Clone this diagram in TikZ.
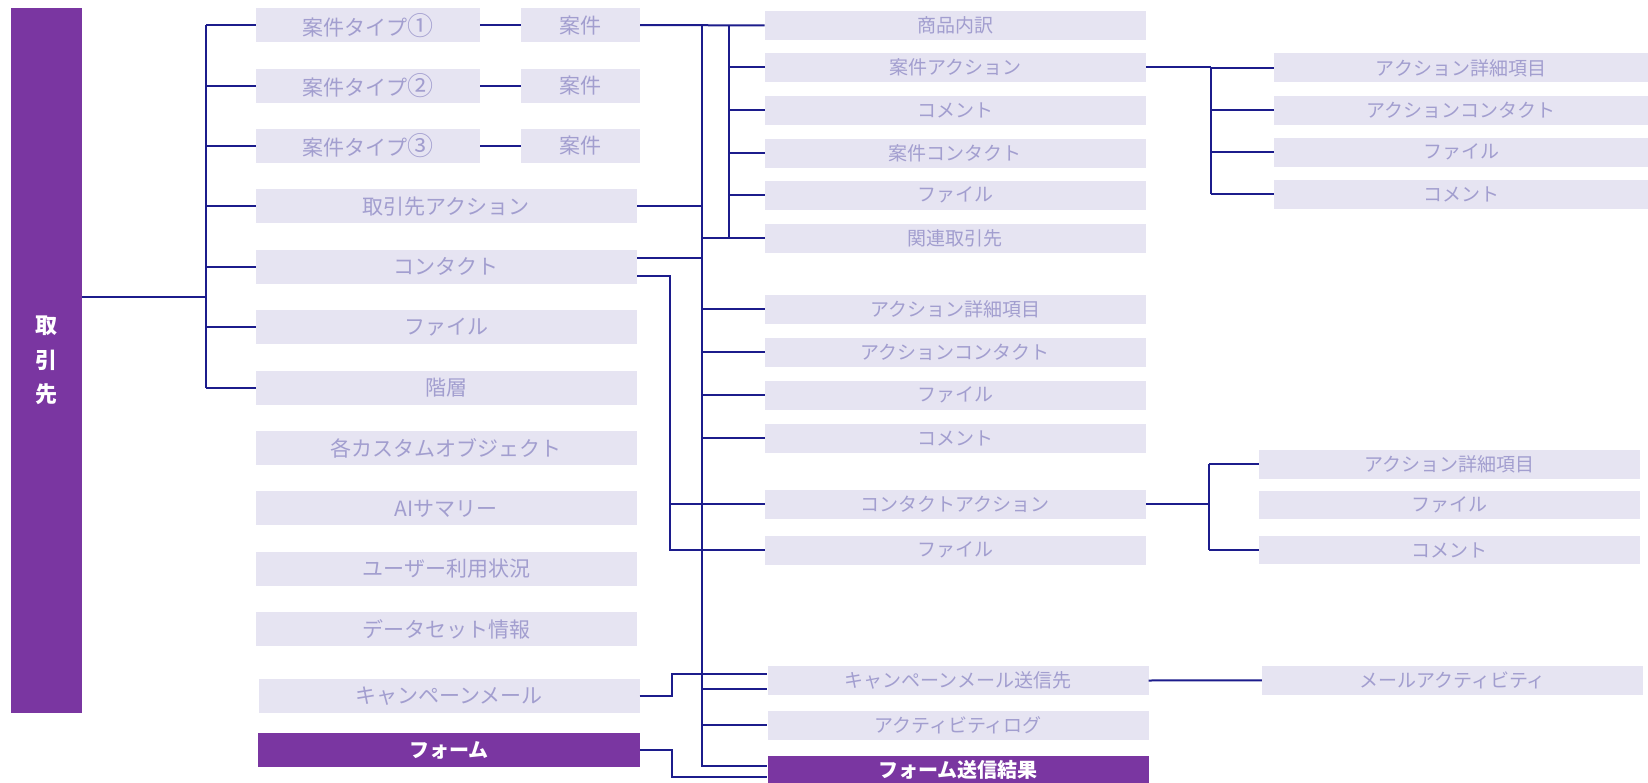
\documentclass[tikz,border=0pt]{standalone}
\usepackage{fontspec}
\setmainfont{Noto Sans CJK JP}
\usepackage{tikz}
\usetikzlibrary{calc}

\definecolor{barpurple}{HTML}{7A36A1}
\definecolor{boxlav}{HTML}{E6E4F2}
\definecolor{boxtext}{HTML}{A29ECF}
\definecolor{linknavy}{HTML}{1C1C8C}

\newcommand{\bignum}[1]{{\fontsize{26}{24}\selectfont #1}}

\tikzset{
  lbox/.style={fill=boxlav, text=boxtext, inner sep=0pt, minimum height=28.7pt,
    minimum width=381pt, font=\fontsize{19}{22}\selectfont},
  lboxa/.style={lbox, minimum height=34pt, font=\fontsize{21}{24}\selectfont},
  pbox/.style={fill=barpurple, text=white, inner sep=0pt, font=\fontsize{20}{23}\selectfont\bfseries},
  link/.style={draw=linknavy, line width=2pt}
}

\begin{document}
\begin{tikzpicture}[x=1pt, y=-1pt]
    \useasboundingbox (0,0) rectangle (1648,783);

    % left bar
    \node[pbox, minimum width=71.5pt, minimum height=704.6pt, align=center,
      font=\fontsize{22}{34.5}\selectfont\bfseries] (bar) at (46.3,360.7) {取\\引\\先};

    % first column
    \node[lboxa, minimum width=224pt] (t1) at (368,25.2) {案件タイプ\bignum{①}};
    \node[lboxa, minimum width=224pt] (t2) at (368,85.6) {案件タイプ\bignum{②}};
    \node[lboxa, minimum width=224pt] (t3) at (368,146) {案件タイプ\bignum{③}};
    \node[lboxa, minimum width=119pt] (a1) at (580.5,25.2) {案件};
    \node[lboxa, minimum width=119pt] (a2) at (580.5,85.6) {案件};
    \node[lboxa, minimum width=119pt] (a3) at (580.5,146) {案件};
    \node[lboxa] (tact) at (446.3,206.4) {取引先アクション};
    \node[lboxa] (cont) at (446.3,266.8) {コンタクト};
    \node[lboxa] (file1) at (446.3,327.2) {ファイル};
    \node[lboxa] (kaiso) at (446.3,387.6) {階層};
    \node[lboxa] (cust) at (446.3,448) {各カスタムオブジェクト};
    \node[lboxa] (ais) at (446.3,508.4) {AIサマリー};
    \node[lboxa] (user) at (446.3,568.8) {ユーザー利用状況};
    \node[lboxa] (data) at (446.3,629.2) {データセット情報};
    \node[lboxa] (camp) at (449,696) {キャンペーンメール};
    \node[pbox, minimum width=381.5pt, minimum height=34pt] (form) at (449,750) {フォーム};

    % second column
    \node[lbox] (hin) at (955.3,25.3) {商品内訳};
    \node[lbox] (aact) at (955.3,67.3) {案件アクション};
    \node[lbox] (com1) at (955.3,110.3) {コメント};
    \node[lbox] (acon) at (955.3,153.3) {案件コンタクト};
    \node[lbox] (file2) at (955.3,195.3) {ファイル};
    \node[lbox] (kan) at (955.3,238.3) {関連取引先};
    \node[lbox] (det1) at (955.3,309.3) {アクション詳細項目};
    \node[lbox] (acont1) at (955.3,352.3) {アクションコンタクト};
    \node[lbox] (file3) at (955.3,395.3) {ファイル};
    \node[lbox] (com2) at (955.3,438.3) {コメント};
    \node[lbox] (cact) at (955.3,504.3) {コンタクトアクション};
    \node[lbox] (file4) at (955.3,550.3) {ファイル};
    \node[lbox] (send) at (958,680.5) {キャンペーンメール送信先};
    \node[lbox] (alog) at (958,725.3) {アクティビティログ};
    \node[pbox, minimum width=381pt, minimum height=28pt] (fres) at (958,770) {フォーム送信結果};

    % third column
    \node[lbox, minimum width=374pt] (det2) at (1461,67.8) {アクション詳細項目};
    \node[lbox, minimum width=374pt] (acont2) at (1461,110.3) {アクションコンタクト};
    \node[lbox, minimum width=374pt] (file5) at (1461,152.3) {ファイル};
    \node[lbox, minimum width=374pt] (com3) at (1461,194.3) {コメント};
    \node[lbox] (det3) at (1449.5,464.3) {アクション詳細項目};
    \node[lbox] (file6) at (1449.5,505) {ファイル};
    \node[lbox] (com4) at (1449.5,550) {コメント};
    \node[lbox] (mact) at (1452.5,680.3) {メールアクティビティ};

    % joints
    \coordinate (j0) at (206,297.5);
    \coordinate (v0) at (670,0);
    \coordinate (v1) at (702,0);
    \coordinate (v2) at (729,0);
    \coordinate (v3) at (672,0);
    \coordinate (v4) at (1211,0);
    \coordinate (v5) at (1209,0);
    \coordinate (contup) at ([yshift=9pt]cont.east);
    \coordinate (contlow) at ([yshift=-9pt]cont.east);
    \coordinate (sendin) at ([yshift=7pt]send.west);
    \coordinate (sendlow) at ([yshift=-8pt]send.west);
    \coordinate (fresup) at ([yshift=4pt]fres.west);
    \coordinate (fresin) at ([yshift=-7pt]fres.west);

    % bar to first column
    \draw[link] (bar.east |- j0) -- (j0);
    \draw[link] (j0 |- t1.west) -- (j0 |- kaiso.west);
    \foreach \n in {t1,t2,t3,tact,cont,file1,kaiso}
      \draw[link] (j0 |- \n.west) -- (\n.west);
    \foreach \i in {1,2,3}
      \draw[link] (t\i.east) -- (a\i.west);

    % case branch
    \draw[link] (a1.east) -- (hin.west);
    \draw[link] (v2 |- hin.west) -- (v2 |- kan.west);
    \foreach \n in {aact,com1,acon,file2,kan}
      \draw[link] (v2 |- \n.west) -- (\n.west);
    \draw[link] (v1 |- a1.east) -- (v1 |- fresup) -- (fresup);
    \draw[link] (v1 |- kan.west) -- (v2 |- kan.west);

    % account action and contact
    \draw[link] (tact.east) -- (v1 |- tact.east);
    \draw[link] (contup) -- (v1 |- contup);
    \foreach \n in {det1,acont1,file3,com2,alog}
      \draw[link] (v1 |- \n.west) -- (\n.west);
    \draw[link] (v1 |- sendlow) -- (sendlow);
    \draw[link] (contlow) -| (v0 |- file4.west) -- (file4.west);
    \draw[link] (v0 |- cact.west) -- (cact.west);

    % campaign mail and form
    \draw[link] (camp.east) -| (v3 |- sendin) -- (sendin);
    \draw[link] (form.east) -| (v3 |- fresin) -- (fresin);
    \draw[link] (send.east) -- (mact.west);

    % third column links
    \draw[link] (aact.east) -- (v4 |- aact.east);
    \draw[link] (v4 |- det2.west) -- (v4 |- com3.west);
    \foreach \n in {det2,acont2,file5,com3}
      \draw[link] (v4 |- \n.west) -- (\n.west);
    \draw[link] (cact.east) -- (v5 |- cact.east);
    \draw[link] (v5 |- det3.west) -- (v5 |- com4.west);
    \foreach \n in {det3,com4}
      \draw[link] (v5 |- \n.west) -- (\n.west);
\end{tikzpicture}
\end{document}
